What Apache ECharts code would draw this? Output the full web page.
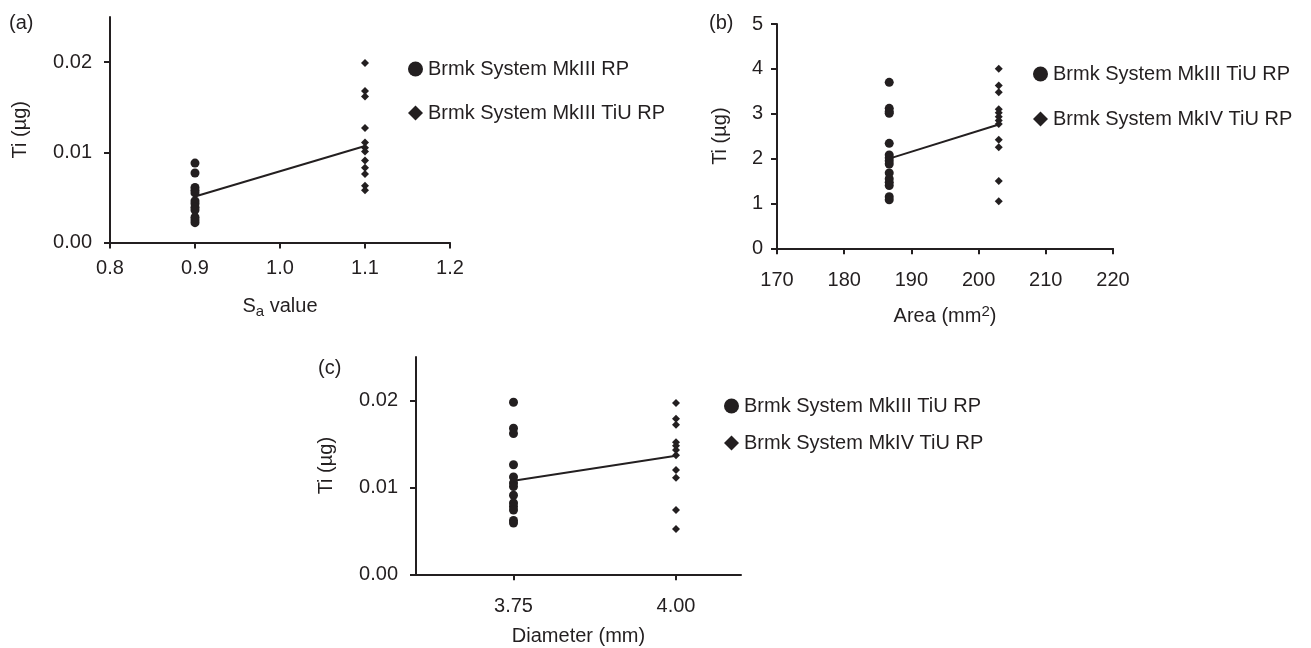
<!DOCTYPE html>
<html>
<head>
<meta charset="utf-8">
<script src="https://cdn.jsdelivr.net/npm/echarts@6/dist/echarts.min.js"></script>
<style>
  html, body { margin: 0; padding: 0; background: #fff; }
  #chart { width: 1311px; height: 648px; }
</style>
</head>
<body>
<div id="chart"></div>
<script>
// panel (a): Ti vs Sa value
const saCircleX = 0.9;
const saCircleY = [0.0088, 0.0077, 0.0061, 0.0058, 0.0055, 0.0046, 0.0043, 0.0039, 0.0036, 0.0028, 0.0025, 0.0022];
const saDiamondX = 1.1;
const saDiamondY = [0.0199, 0.0168, 0.0162, 0.0127, 0.0111, 0.0105, 0.0101, 0.0091, 0.0083, 0.0076, 0.0063, 0.0058];
const saMeanLine = [[0.9, 0.0051], [1.1, 0.0107]];
const saLegend = ['Brmk System MkIII RP', 'Brmk System MkIII TiU RP'];

// panel (b): Ti vs area
const areaCircleX = 186.7;
const areaCircleY = [3.70, 3.12, 3.05, 3.01, 2.34, 2.08, 2.02, 1.95, 1.88, 1.68, 1.55, 1.47, 1.40, 1.15, 1.08];
const areaDiamondX = 203;
const areaDiamondY = [4.0, 3.63, 3.48, 3.10, 3.02, 2.93, 2.85, 2.77, 2.42, 2.25, 1.50, 1.05];
const areaMeanLine = [[186.7, 2.0], [203, 2.76]];
const areaLegend = ['Brmk System MkIII TiU RP', 'Brmk System MkIV TiU RP'];

// panel (c): Ti vs diameter
const diaCircleX = 3.75;
const diaCircleY = [0.0198, 0.0168, 0.0162, 0.0126, 0.0112, 0.0105, 0.0101, 0.0091, 0.0082, 0.0078, 0.0074, 0.0062, 0.0059];
const diaDiamondX = 4.0;
const diaDiamondY = [0.0197, 0.0179, 0.0172, 0.0152, 0.0148, 0.0143, 0.0137, 0.0120, 0.0111, 0.0074, 0.0052];
const diaMeanLine = [[3.75, 0.01077], [4.0, 0.01364]];
const diaLegend = ['Brmk System MkIII TiU RP', 'Brmk System MkIV TiU RP'];

const tiTicks = [0, 0.01, 0.02];
const diaTicks = [3.75, 4.0];

const ink = '#231f20';
const font = 'Liberation Sans, Arial, sans-serif';
const fs = 20;

function col(x, ys) {
  return ys.map(y => [x, y]);
}

const axisLine = { show: true, onZero: false, lineStyle: { color: ink, width: 2 } };
const tickStyle = { color: ink, width: 2 };

function xAxis(idx, margin, opt) {
  return Object.assign({
    type: 'value', gridIndex: idx, nameLocation: 'middle',
    axisLine: axisLine,
    axisTick: { show: true, length: 6, lineStyle: tickStyle },
    splitLine: { show: false },
    nameTextStyle: { color: ink, fontSize: fs, fontFamily: font }
  }, opt, {
    axisLabel: Object.assign({ color: ink, fontSize: fs, fontFamily: font, margin: margin }, opt.axisLabel || {})
  });
}

function yAxis(idx, opt) {
  return Object.assign({
    type: 'value', gridIndex: idx, nameLocation: 'middle', nameRotate: 90,
    axisLine: axisLine,
    axisTick: { show: true, length: 6, lineStyle: tickStyle },
    splitLine: { show: false },
    nameTextStyle: { color: ink, fontSize: fs, fontFamily: font }
  }, opt, {
    axisLabel: Object.assign({ color: ink, fontSize: fs, fontFamily: font, margin: 18 }, opt.axisLabel || {})
  });
}

function scatter(name, idx, data, symbol, size) {
  return {
    name: name, type: 'scatter', xAxisIndex: idx, yAxisIndex: idx,
    symbol: symbol, symbolSize: size, data: data,
    itemStyle: { color: ink, opacity: 1 }, silent: true
  };
}

function meanLine(idx, data) {
  return {
    type: 'line', xAxisIndex: idx, yAxisIndex: idx, data: data,
    showSymbol: false, symbol: 'none', z: 3,
    lineStyle: { color: ink, width: 2 }, silent: true
  };
}

function legend(left, top, gap, names) {
  return {
    orient: 'vertical', left: left, top: top, itemGap: gap,
    itemWidth: 15, itemHeight: 15, selectedMode: false,
    textStyle: { color: ink, fontSize: fs, fontFamily: font },
    data: [
      { name: names[0], icon: 'circle', itemStyle: { color: ink } },
      { name: names[1], icon: 'diamond', itemStyle: { color: ink } }
    ]
  };
}

const chart = echarts.init(document.getElementById('chart'), null, { renderer: 'canvas' });

const option = {
  backgroundColor: '#fff',
  animation: false,
  textStyle: { fontFamily: font },
  grid: [
    { left: 110, top: 17, width: 340, height: 225.5 },
    { left: 777, top: 24, width: 336, height: 224.3 },
    { left: 416, top: 357, width: 325, height: 217.3 }
  ],
  xAxis: [
    xAxis(0, 16, {
      min: 0.8, max: 1.2, interval: 0.1,
      name: '{t|S}{s|a}{t| value}', nameGap: 51,
      nameTextStyle: {
        color: ink, fontFamily: font,
        rich: {
          t: { fontSize: fs, color: ink, fontFamily: font },
          s: { fontSize: 15, color: ink, fontFamily: font, verticalAlign: 'bottom', padding: [11, 0, 0, 0] }
        }
      },
      axisLabel: { formatter: v => v.toFixed(1) }
    }),
    xAxis(1, 22, {
      min: 170, max: 220, interval: 10,
      name: '{t|Area (mm}{p|2}{t|)}', nameGap: 56,
      nameTextStyle: {
        color: ink, fontFamily: font,
        rich: {
          t: { fontSize: fs, color: ink, fontFamily: font },
          p: { fontSize: 15, color: ink, fontFamily: font, verticalAlign: 'top', padding: [0, 0, 9, 0] }
        }
      }
    }),
    xAxis(2, 22, {
      min: 3.6, max: 4.1,
      name: 'Diameter (mm)', nameGap: 52,
      axisTick: { show: true, length: 6, customValues: diaTicks, lineStyle: tickStyle },
      axisLabel: { customValues: diaTicks, formatter: v => v.toFixed(2) }
    })
  ],
  yAxis: [
    yAxis(0, {
      min: 0, max: 0.025,
      name: 'Ti (µg)', nameGap: 80,
      axisTick: { show: true, length: 6, customValues: tiTicks, lineStyle: tickStyle },
      axisLabel: { customValues: tiTicks, formatter: v => v.toFixed(2) }
    }),
    yAxis(1, {
      min: 0, max: 5, interval: 1,
      name: 'Ti (µg)', nameGap: 47,
      axisLabel: { margin: 14 }
    }),
    yAxis(2, {
      min: 0, max: 0.025,
      name: 'Ti (µg)', nameGap: 80,
      axisTick: { show: true, length: 6, customValues: tiTicks, lineStyle: tickStyle },
      axisLabel: { customValues: tiTicks, formatter: v => v.toFixed(2) }
    })
  ],
  legend: [
    legend(403, 54, 24, saLegend),
    legend(1028, 59, 25, areaLegend),
    legend(719, 391, 17, diaLegend)
  ],
  graphic: [
    { type: 'text', left: 9, top: 13, style: { text: '(a)', fontSize: fs, fontFamily: font, fill: ink } },
    { type: 'text', left: 709, top: 13, style: { text: '(b)', fontSize: fs, fontFamily: font, fill: ink } },
    { type: 'text', left: 318, top: 358, style: { text: '(c)', fontSize: fs, fontFamily: font, fill: ink } }
  ],
  series: [
    scatter(saLegend[0], 0, col(saCircleX, saCircleY), 'circle', 9),
    scatter(saLegend[1], 0, col(saDiamondX, saDiamondY), 'diamond', 8),
    meanLine(0, saMeanLine),
    scatter(areaLegend[0], 1, col(areaCircleX, areaCircleY), 'circle', 9),
    scatter(areaLegend[1], 1, col(areaDiamondX, areaDiamondY), 'diamond', 8),
    meanLine(1, areaMeanLine),
    scatter(diaLegend[0], 2, col(diaCircleX, diaCircleY), 'circle', 9),
    scatter(diaLegend[1], 2, col(diaDiamondX, diaDiamondY), 'diamond', 8),
    meanLine(2, diaMeanLine)
  ]
};

chart.setOption(option);
</script>
</body>
</html>
